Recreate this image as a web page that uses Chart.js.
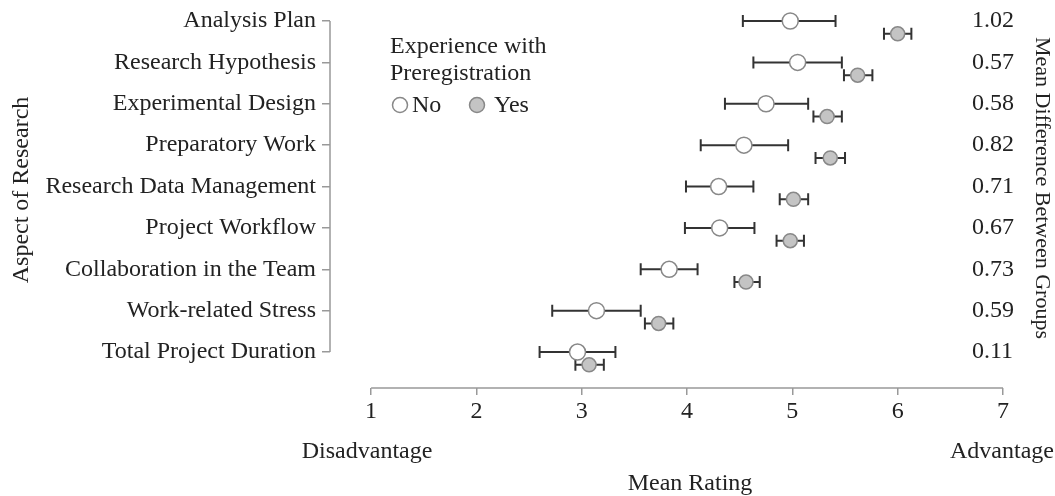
<!DOCTYPE html>
<html>
<head>
<meta charset="utf-8">
<script src="https://cdn.jsdelivr.net/npm/chart.js@4/dist/chart.umd.min.js"></script>
<style>
  html, body { margin: 0; padding: 0; background: #fff; }
  canvas { display: block; }
</style>
</head>
<body>
<canvas id="chart" width="1055" height="496"></canvas>
<script>
// Aspects of research, top to bottom
const categories = [
  'Analysis Plan',
  'Research Hypothesis',
  'Experimental Design',
  'Preparatory Work',
  'Research Data Management',
  'Project Workflow',
  'Collaboration in the Team',
  'Work-related Stress',
  'Total Project Duration'
];

// No experience with preregistration
const noMeans = [4.98, 5.05, 4.75, 4.54, 4.30, 4.31, 3.83, 3.14, 2.96];
const noLow   = [4.53, 4.63, 4.36, 4.13, 3.99, 3.98, 3.56, 2.72, 2.60];
const noHigh  = [5.41, 5.47, 5.15, 4.96, 4.63, 4.64, 4.10, 3.56, 3.32];

// Experience with preregistration
const yesMeans = [6.00, 5.62, 5.33, 5.36, 5.01, 4.98, 4.56, 3.73, 3.07];
const yesLow   = [5.87, 5.49, 5.20, 5.22, 4.88, 4.85, 4.45, 3.60, 2.94];
const yesHigh  = [6.13, 5.76, 5.47, 5.50, 5.15, 5.11, 4.69, 3.87, 3.21];

const diffLabels = ['1.02', '0.57', '0.58', '0.82', '0.71', '0.67', '0.73', '0.59', '0.11'];
const xTicks = [1, 2, 3, 4, 5, 6, 7];

const FONT = '"Liberation Serif", "Times New Roman", serif';
const TEXT = '#222';
const AXIS = '#999';
const YES_SHIFT = 0.31; // yes dots sit a bit below the row

const extras = {
  id: 'extras',
  beforeDatasetDraw(chart, args) {
    const ds = chart.data.datasets[args.index];
    const { ctx, scales: { x, y } } = chart;
    ctx.save();
    ctx.strokeStyle = '#333';
    ctx.lineWidth = 2;
    ds.data.forEach((p, i) => {
      const py = y.getPixelForValue(p.y);
      const x0 = x.getPixelForValue(ds.lo[i]);
      const x1 = x.getPixelForValue(ds.hi[i]);
      ctx.beginPath();
      ctx.moveTo(x0, py); ctx.lineTo(x1, py);
      ctx.moveTo(x0, py - 6); ctx.lineTo(x0, py + 6);
      ctx.moveTo(x1, py - 6); ctx.lineTo(x1, py + 6);
      ctx.stroke();
    });
    ctx.restore();
  },
  afterDraw(chart) {
    const { ctx, chartArea, scales: { x, y } } = chart;
    ctx.save();

    // detached axis lines
    ctx.strokeStyle = AXIS;
    ctx.lineWidth = 1.5;
    ctx.beginPath();
    ctx.moveTo(x.getPixelForValue(xTicks[0]), chartArea.bottom);
    ctx.lineTo(x.getPixelForValue(xTicks[xTicks.length - 1]), chartArea.bottom);
    ctx.moveTo(chartArea.left, y.getPixelForValue(0));
    ctx.lineTo(chartArea.left, y.getPixelForValue(categories.length - 1));
    ctx.stroke();

    ctx.fillStyle = TEXT;
    ctx.font = '24px ' + FONT;
    ctx.textBaseline = 'middle';

    // differences on the right
    ctx.textAlign = 'left';
    diffLabels.forEach((d, i) => {
      ctx.fillText(d, 972, y.getPixelForValue(i));
    });

    // end labels and x title
    ctx.textAlign = 'center';
    ctx.fillText('Disadvantage', x.getPixelForValue(1) - 4, 452);
    ctx.fillText('Advantage', x.getPixelForValue(7) - 1, 452);
    ctx.fillText('Mean Rating', x.getPixelForValue(4) + 3, 484);

    ctx.save();
    ctx.translate(22, 190);
    ctx.rotate(-Math.PI / 2);
    ctx.fillText('Aspect of Research', 0, 0);
    ctx.restore();

    ctx.save();
    ctx.font = '22px ' + FONT;
    ctx.translate(1042, 188);
    ctx.rotate(Math.PI / 2);
    ctx.fillText('Mean Difference Between Groups', 0, 0);
    ctx.restore();

    // legend
    ctx.textAlign = 'left';
    ctx.fillText('Experience with', 390, 47);
    ctx.fillText('Preregistration', 390, 74);
    ctx.fillText('No', 412, 106);
    ctx.fillText('Yes', 494, 106);
    ctx.lineWidth = 1.5;
    ctx.strokeStyle = '#888';
    [[400, '#fff'], [477, '#c4c4c4']].forEach(([cx, fill]) => {
      ctx.beginPath();
      ctx.arc(cx, 105, 7.5, 0, Math.PI * 2);
      ctx.fillStyle = fill;
      ctx.fill();
      ctx.stroke();
    });

    ctx.restore();
  }
};

new Chart(document.getElementById('chart'), {
  type: 'scatter',
  data: {
    datasets: [
      {
        label: 'No',
        data: categories.map((c, i) => ({ x: noMeans[i], y: i })),
        lo: noLow,
        hi: noHigh,
        backgroundColor: '#fff',
        borderColor: '#888',
        borderWidth: 1.5,
        pointRadius: 8
      },
      {
        label: 'Yes',
        data: categories.map((c, i) => ({ x: yesMeans[i], y: i + YES_SHIFT })),
        lo: yesLow,
        hi: yesHigh,
        backgroundColor: '#c4c4c4',
        borderColor: '#888',
        borderWidth: 1.5,
        pointRadius: 7
      }
    ]
  },
  options: {
    responsive: false,
    animation: false,
    clip: false,
    layout: { padding: { top: 21, right: 52, left: 0, bottom: 0 } },
    plugins: {
      legend: { display: false },
      tooltip: { enabled: false }
    },
    scales: {
      x: {
        type: 'linear',
        min: 0.61,
        max: 7,
        afterBuildTicks: s => { s.ticks = xTicks.map(v => ({ value: v })); },
        afterFit: s => { s.height = 108; },
        border: { display: false },
        grid: { drawOnChartArea: false, drawTicks: true, tickLength: 7, color: AXIS, lineWidth: 1.5 },
        ticks: { color: TEXT, font: { family: FONT, size: 24 }, padding: 2, maxRotation: 0, callback: v => v }
      },
      y: {
        type: 'linear',
        reverse: true,
        min: 0,
        max: 8.87,
        afterBuildTicks: s => { s.ticks = categories.map((c, i) => ({ value: i })); },
        afterFit: s => { s.width = 330; },
        border: { display: false },
        grid: { drawOnChartArea: false, drawTicks: true, tickLength: 8, color: AXIS, lineWidth: 1.5 },
        ticks: { color: TEXT, font: { family: FONT, size: 24 }, padding: 6, callback: v => categories[Math.round(v)] }
      }
    }
  },
  plugins: [extras]
});
</script>
</body>
</html>
